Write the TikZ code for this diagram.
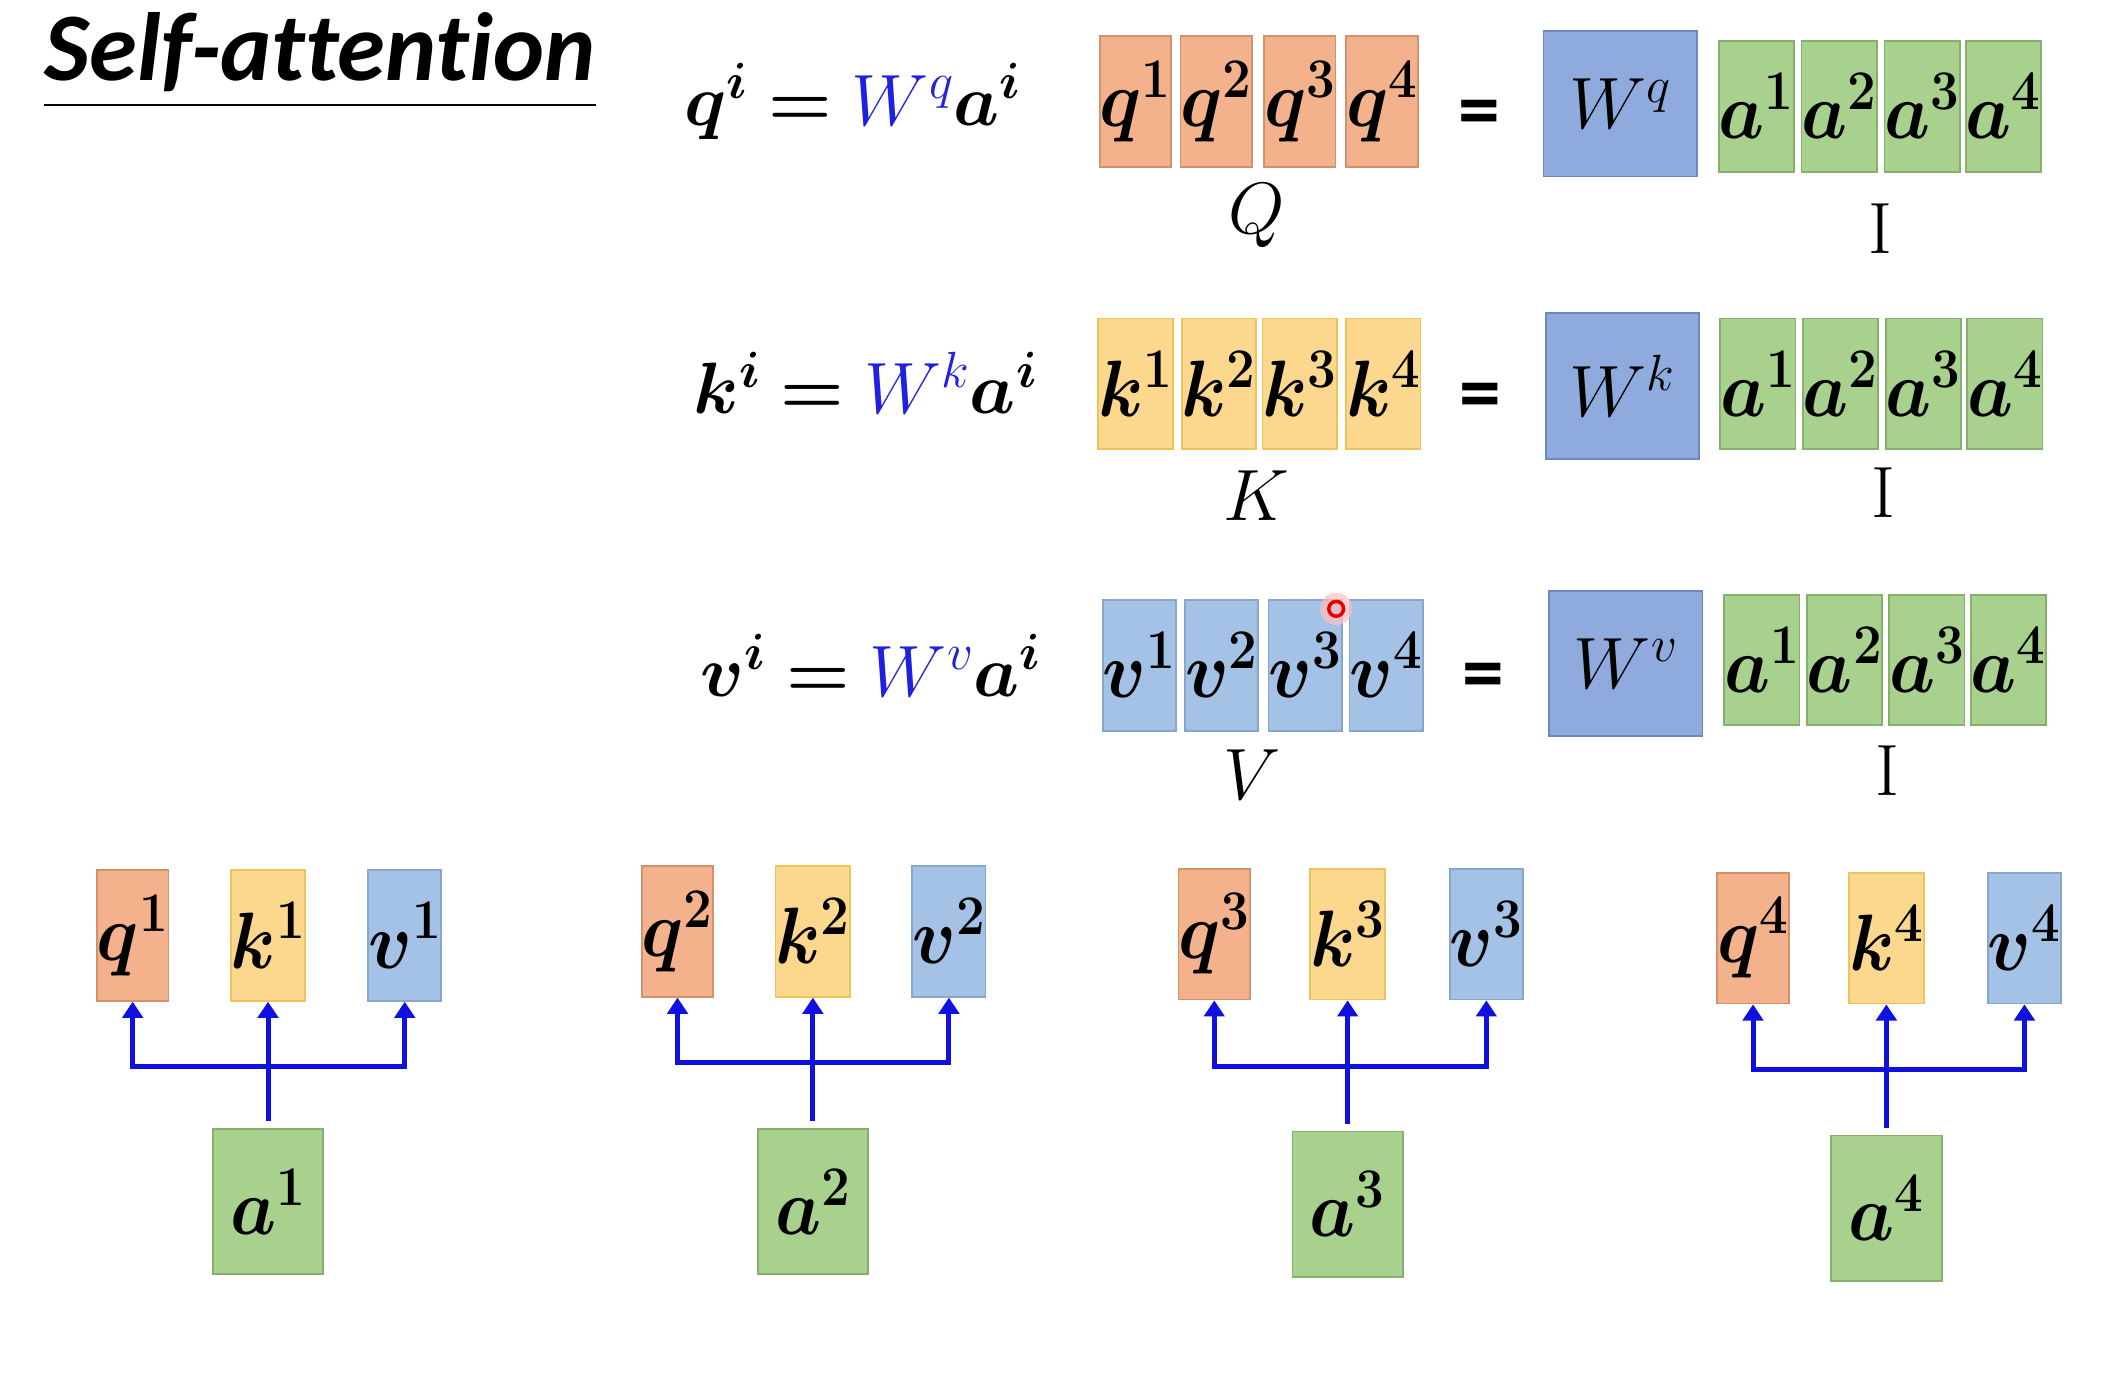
\RequirePackage{fix-cm}
\documentclass[tikz,border=0pt]{standalone}
\usepackage[no-math]{fontspec}
\usepackage{amsmath,bm,graphicx}
\newfontfamily\titlefont[Ligatures=NoCommon]{Carlito}
\usetikzlibrary{arrows.meta,calc}
\definecolor{qF}{HTML}{F4B28C}
\definecolor{qB}{HTML}{D0916B}
\definecolor{kF}{HTML}{FCD88E}
\definecolor{kB}{HTML}{EEC35A}
\definecolor{vF}{HTML}{A4C2E6}
\definecolor{vB}{HTML}{86A6CC}
\definecolor{wF}{HTML}{8FAADC}
\definecolor{wB}{HTML}{6C88C4}
\definecolor{aF}{HTML}{A9D18E}
\definecolor{aB}{HTML}{88AE6E}
\definecolor{eqblue}{HTML}{2020E0}
\definecolor{arrblue}{HTML}{1010E0}
\newcommand{\tallsym}[2]{\scalebox{1}[1.1]{$\bm{#1}^{\bm{#2}}$}}
\begin{document}
\begin{tikzpicture}[x=1pt,y=-1pt,
  cellbase/.style={line width=1.3pt, inner sep=0pt, font=\fontsize{54}{60}\selectfont},
  qbox/.style={cellbase, draw=qB, fill=qF, minimum width=52pt, minimum height=97pt},
  kbox/.style={cellbase, draw=kB, fill=kF, minimum width=52pt, minimum height=97pt},
  vbox/.style={cellbase, draw=vB, fill=vF, minimum width=52pt, minimum height=97pt},
  abox/.style={cellbase, draw=aB, fill=aF, minimum width=53pt, minimum height=97pt},
  wbox/.style={cellbase, draw=wB, fill=wF, minimum width=114pt, minimum height=108pt},
  bigabox/.style={cellbase, draw=aB, fill=aF, minimum width=82pt, minimum height=108pt},
  eqtext/.style={anchor=base west, inner sep=0pt, font=\fontsize{54}{60}\selectfont},
  eqsign/.style={inner sep=0pt, font=\titlefont\bfseries\fontsize{62}{66}\selectfont},
  lab/.style={inner sep=0pt, font=\fontsize{54}{60}\selectfont},
  arr/.style={draw=arrblue, line width=3.7pt, -{Triangle[width=15pt,length=12pt]}}
]
\path[fill=white] (0,0) rectangle (1568,1019);
\path[use as bounding box] (0,0) rectangle (1568,1019);

% title
\node[anchor=base west, inner sep=0pt, font=\titlefont\bfseries\itshape\fontsize{72}{80}\selectfont] (title) at (33,60) {Self-attention};
\draw[line width=2pt] ($(title.base west)+(0,18)$) -- ($(title.base east)+(0,18)$);

% ---------- row Q ----------
\node[eqtext] (eqq) at (508,93) {$\bm{q}^{\bm{i}} \bm{=} {\color{eqblue}W^{q}}\bm{a}^{\bm{i}}$};
\foreach \x/\n in {843/1,903/2,965/3,1026/4}
  \node[qbox] (tq\n) at (\x,75.5) {\tallsym{q}{\n}};
\node[eqsign] (e1) at (1098,88) {=};
\node[wbox] (Wq) at (1203,77) {$W^{q}$};
\foreach \x/\n in {1304/1,1365.5/2,1427/3,1487.5/4}
  \node[abox] (aq\n) at (\x,79) {\tallsym{a}{\n}};
\node[lab] (labQ) at (933,160) {$Q$};
\node[lab] (I1) at (1396,170) {I};

% ---------- row K ----------
\node[eqtext] (eqk) at (515,307) {$\bm{k}^{\bm{i}} \bm{=} {\color{eqblue}W^{k}}\bm{a}^{\bm{i}}$};
\foreach \x/\n in {843/1,905/2,965/3,1027/4}
  \node[kbox] (tk\n) at (\x,285) {\tallsym{k}{\n}};
\node[eqsign] (e2) at (1099,298) {=};
\node[wbox] (Wk) at (1204.5,286.5) {$W^{k}$};
\foreach \x/\n in {1305/1,1366.5/2,1428/3,1488.5/4}
  \node[abox] (ak\n) at (\x,285) {\tallsym{a}{\n}};
\node[lab] (labK) at (933,368) {$K$};
\node[lab] (I2) at (1398,366) {I};

% ---------- row V ----------
\node[eqtext] (eqv) at (520,517) {$\bm{v}^{\bm{i}} \bm{=} {\color{eqblue}W^{v}}\bm{a}^{\bm{i}}$};
\foreach \x/\n in {846/1,907/2,969/3,1029/4}
  \node[vbox] (tv\n) at (\x,494) {\tallsym{v}{\n}};
\node[eqsign] (e3) at (1101,506) {=};
\node[wbox] (Wv) at (1207,492.5) {$W^{v}$};
\foreach \x/\n in {1308/1,1369.5/2,1430.5/3,1491/4}
  \node[abox] (av\n) at (\x,490) {\tallsym{a}{\n}};
\node[lab] (labV) at (930,575) {$V$};
\node[lab] (I3) at (1401,572) {I};

% pointer mark
\fill[red!25, opacity=0.7] (992,452) circle (12);
\draw[red!90!black, line width=2.6pt] (992,452) circle (5.5);

% ---------- bottom groups ----------
\foreach \n/\qx/\kx/\vx/\ax/\ty/\by/\ay in {
  1/98.5/199/300.5/199/694.5/792/892,
  2/503/603.5/704.5/603.5/691.5/789/892,
  3/901.5/1000.5/1103.5/1000.5/693.5/792/894,
  4/1301.5/1400.5/1503/1400.5/696.5/794/897}{
  \node[qbox, minimum width=53pt] (bq\n) at (\qx,\ty) {\tallsym{q}{\n}};
  \node[kbox, minimum width=53pt] (bk\n) at (\kx,\ty) {\tallsym{k}{\n}};
  \node[vbox, minimum width=53pt] (bv\n) at (\vx,\ty) {\tallsym{v}{\n}};
  \node[bigabox] (ba\n) at (\ax,\ay) {\tallsym{a}{\n}};
  \coordinate (j\n) at (\ax,\by);
  \draw[arr, shorten <=5pt] (ba\n.north) -- (bk\n.south);
  \draw[arr, line join=miter] (j\n) -| (bq\n.south);
  \draw[arr, line join=miter] (j\n) -| (bv\n.south);
}
\end{tikzpicture}
\end{document}
